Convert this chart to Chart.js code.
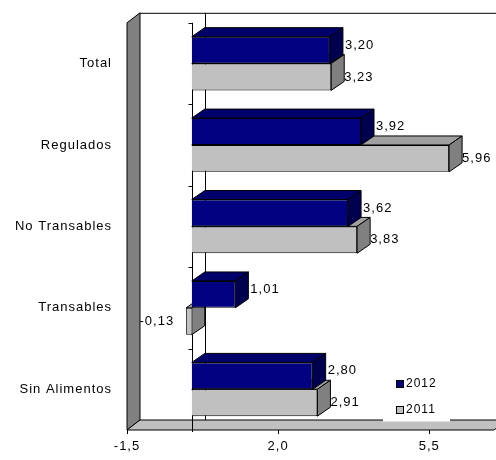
<!DOCTYPE html>
<html>
<head>
<meta charset="utf-8">
<script src="https://cdn.jsdelivr.net/npm/chart.js@4"></script>
<style>
  html, body { margin: 0; padding: 0; background: #fff; }
  #c { display: block; }
</style>
</head>
<body>
<canvas id="c" width="496" height="460"></canvas>
<script>
const categories = ['Total', 'Regulados', 'No Transables', 'Transables', 'Sin Alimentos'];
const values2012 = [3.20, 3.92, 3.62, 1.01, 2.80];
const values2011 = [3.23, 5.96, 3.83, -0.13, 2.91];
const seriesNames = ['2012', '2011'];
const xTicks = [-1.5, 2.0, 5.5];

// 3d depth offsets (walls, bars)
const DX = 13, DY = -10, BDX = 13, BDY = -9;
const FONT = '"Liberation Sans", Arial, sans-serif';
const fronts = ['#000080', '#c0c0c0'];
const tops = ['#00006a', '#a0a0a0'];
const sides = ['#000050', '#808080'];

function poly(ctx, pts, fill) {
  ctx.beginPath();
  ctx.moveTo(pts[0][0], pts[0][1]);
  for (let i = 1; i < pts.length; i++) ctx.lineTo(pts[i][0], pts[i][1]);
  ctx.closePath();
  ctx.fillStyle = fill;
  ctx.fill();
  ctx.stroke();
}

const fake3d = {
  id: 'fake3d',
  beforeDraw(chart) {
    chart.ctx.letterSpacing = '1px';
  },
  beforeDatasetsDraw(chart) {
    const ctx = chart.ctx, a = chart.chartArea, x = chart.scales.x, y = chart.scales.y;
    ctx.save();
    ctx.strokeStyle = '#000';
    ctx.lineWidth = 1;
    // back wall top edge
    ctx.beginPath();
    ctx.moveTo(a.left + DX, a.top + DY + 0.5);
    ctx.lineTo(chart.width, a.top + DY + 0.5);
    ctx.stroke();
    // left wall + floor
    poly(ctx, [[a.left, a.top], [a.left + DX, a.top + DY], [a.left + DX, a.bottom + DY], [a.left, a.bottom]], '#808080');
    poly(ctx, [[a.left, a.bottom], [a.left + DX, a.bottom + DY], [a.right + DX, a.bottom + DY], [a.right, a.bottom]], '#c0c0c0');
    // zero lines (back and front)
    const x0 = Math.round(x.getPixelForValue(0)) + 0.5;
    ctx.beginPath();
    ctx.moveTo(x0 + DX, a.top + DY);
    ctx.lineTo(x0 + DX, a.bottom + DY);
    ctx.moveTo(x0, a.top);
    ctx.lineTo(x0, a.bottom + 2);
    const step = y.getPixelForValue(1) - y.getPixelForValue(0);
    for (let i = 0; i < categories.length; i++) {
      const yy = Math.round(y.getPixelForValue(i) - step / 2) + 0.5;
      ctx.moveTo(x0 - 4, yy);
      ctx.lineTo(x0, yy);
    }
    ctx.stroke();
    // top and side faces, lower series first
    [1, 0].forEach(d => {
      chart.getDatasetMeta(d).data.forEach(bar => {
        const p = bar.getProps(['x', 'base', 'y', 'height'], true);
        const l = Math.min(p.x, p.base), r = Math.max(p.x, p.base);
        const t = p.y - p.height / 2, b = p.y + p.height / 2;
        poly(ctx, [[l, t], [l + BDX, t + BDY], [r + BDX, t + BDY], [r, t]], tops[d]);
        poly(ctx, [[r, t], [r + BDX, t + BDY], [r + BDX, b + BDY], [r, b]], sides[d]);
      });
    });
    ctx.restore();
  },
  afterDatasetsDraw(chart) {
    const ctx = chart.ctx;
    ctx.save();
    ctx.letterSpacing = '1px';
    ctx.fillStyle = '#000';
    ctx.textBaseline = 'middle';
    ctx.font = '13px ' + FONT;
    chart.data.datasets.forEach((ds, d) => {
      chart.getDatasetMeta(d).data.forEach((bar, i) => {
        const v = ds.data[i];
        const txt = v.toFixed(2).replace('.', ',');
        const p = bar.getProps(['x', 'base', 'y'], true);
        if (v >= 0) {
          ctx.textAlign = 'left';
          ctx.fillText(txt, p.x + (d === 0 ? 15 : 13), p.y + (d === 0 ? -5 : 0));
        } else {
          ctx.textAlign = 'right';
          ctx.fillText(txt, p.x - 12, p.y);
        }
      });
    });
    // legend
    ctx.fillStyle = '#fff';
    ctx.fillRect(383, 368, 67, 53.5);
    ctx.strokeStyle = '#000';
    ctx.font = '12px ' + FONT;
    seriesNames.forEach((n, d) => {
      const yy = 384 + d * 26;
      ctx.fillStyle = fronts[d];
      ctx.fillRect(396.5, yy - 3.5, 7, 7);
      ctx.strokeRect(396.5, yy - 3.5, 7, 7);
      ctx.fillStyle = '#000';
      ctx.textAlign = 'left';
      ctx.fillText(n, 406, yy);
    });
    ctx.restore();
  }
};

new Chart(document.getElementById('c'), {
  type: 'bar',
  data: {
    labels: categories,
    datasets: [
      { label: seriesNames[0], data: values2012, backgroundColor: fronts[0], borderColor: '#000', borderWidth: 1 },
      { label: seriesNames[1], data: values2011, backgroundColor: fronts[1], borderColor: '#000', borderWidth: 1 }
    ]
  },
  options: {
    indexAxis: 'y',
    responsive: false,
    animation: false,
    categoryPercentage: 0.66,
    barPercentage: 1.0,
    layout: { padding: { top: 20, right: 2, left: 0, bottom: 0 } },
    plugins: { legend: { display: false }, tooltip: { enabled: false } },
    scales: {
      x: {
        type: 'linear',
        min: -1.5,
        max: 7,
        afterBuildTicks: s => { s.ticks = xTicks.map(v => ({ value: v })); },
        afterFit: s => { s.height = 30; },
        grid: { display: true, drawOnChartArea: false, drawTicks: true, tickLength: 4, color: '#000' },
        border: { display: false },
        ticks: {
          padding: 5,
          color: '#000',
          font: { family: FONT, size: 13 },
          maxRotation: 0,
          callback: v => v.toFixed(1).replace('.', ',')
        }
      },
      y: {
        type: 'category',
        afterFit: s => { s.width = 127; },
        grid: { display: false, drawTicks: false },
        border: { display: false },
        ticks: { padding: 15, color: '#000', font: { family: FONT, size: 13 } }
      }
    }
  },
  plugins: [fake3d]
});
</script>
</body>
</html>
